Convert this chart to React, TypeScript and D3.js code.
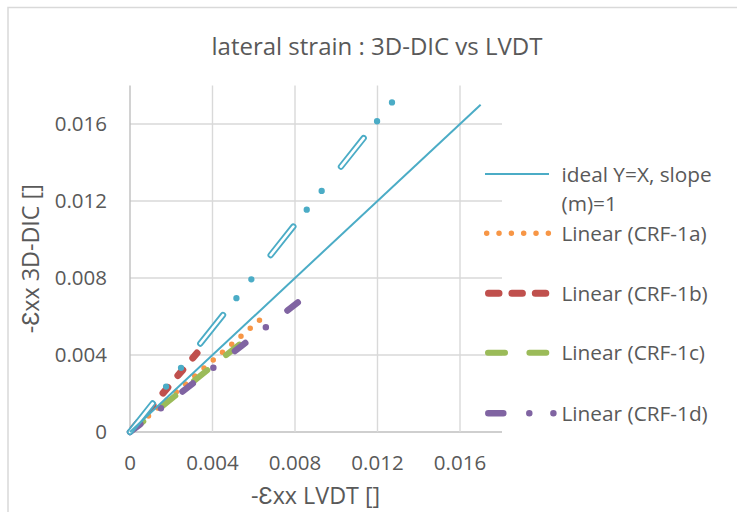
import React from "react";
import * as d3 from "d3";

const xTicks = [0, 0.004, 0.008, 0.012, 0.016];
const yTicks = [0, 0.004, 0.008, 0.012, 0.016];

const idealX = [0, 0.017];
const idealY = [0, 0.017];
const trendBlueX = [0, 0.01277];
const trendBlueY = [0, 0.01721];
const crf1aX = [0, 0.00629];
const crf1aY = [0, 0.00582];
const crf1bX = [0, 0.00325];
const crf1bY = [0, 0.0041];
const crf1cX = [0, 0.00538];
const crf1cY = [0, 0.00461];
const crf1dX = [0, 0.00913];
const crf1dY = [0, 0.00755];

const legendLabels = ["ideal Y=X, slope", "(m)=1", "Linear (CRF-1a)", "Linear (CRF-1b)", "Linear (CRF-1c)", "Linear (CRF-1d)"];

const C_BLUE = "#4BACC6";
const C_ORANGE = "#F79646";
const C_RED = "#C0504D";
const C_GREEN = "#9BBB59";
const C_PURPLE = "#8064A2";
const TXT = "#595959";
const FONT = "'Open Sans', sans-serif";

export default function App() {
  const x = d3.scaleLinear().domain([0, 0.018]).range([130, 501.25]);
  const y = d3.scaleLinear().domain([0, 0.018]).range([432, 85.5]);
  const line = d3
    .line<[number, number]>()
    .x((d) => x(d[0]))
    .y((d) => y(d[1]));
  const pts = (xs: number[], ys: number[]) => xs.map((v, i) => [v, ys[i]] as [number, number]);

  const fmt = (v: number) => (v === 0 ? "0" : v.toFixed(3));
  const x0 = x(0), x1 = 502;
  const yTop = y(0.018), yBot = y(0);

  return (
    <svg width={737} height={512} style={{ position: "absolute", left: 0, top: 0, background: "#fff" }}>
      <rect x={0} y={0} width={737} height={512} fill="#fff" />
      <rect x={8} y={7.5} width={800} height={600} fill="#fff" stroke="#d9d9d9" strokeWidth={1.5} />
      <text x={377} y={55} textAnchor="middle" fontFamily={FONT} fontSize={24} fill={TXT}>
        lateral strain : 3D-DIC vs LVDT
      </text>

      {/* gridlines */}
      {yTicks.map((t) => (
        <line key={"gy" + t} x1={x0} x2={x1} y1={y(t)} y2={y(t)} stroke={t === 0 ? "#bfbfbf" : "#d9d9d9"} strokeWidth={1.4} />
      ))}
      {xTicks.map((t) => (
        <line key={"gx" + t} x1={x(t)} x2={x(t)} y1={yTop} y2={yBot} stroke={t === 0 ? "#bfbfbf" : "#d9d9d9"} strokeWidth={1.4} />
      ))}

      {/* tick labels */}
      {yTicks.map((t) => (
        <text key={"ty" + t} x={107} y={y(t)} dy="0.36em" textAnchor="end" fontFamily={FONT} fontSize={20.5} fill={TXT}>
          {fmt(t)}
        </text>
      ))}
      {xTicks.map((t) => (
        <text key={"tx" + t} x={x(t)} y={463} dy="0.36em" textAnchor="middle" fontFamily={FONT} fontSize={20.5} fill={TXT}>
          {fmt(t)}
        </text>
      ))}

      {/* axis titles */}
      <text x={(x0 + 501.25) / 2} y={504} textAnchor="middle" fontFamily={FONT} fontSize={23.3} fill={TXT}>
        -Ɛxx LVDT []
      </text>
      <text transform={`translate(31,${(yTop + yBot) / 2}) rotate(-90)`} textAnchor="middle" dy="0.36em" fontFamily={FONT} fontSize={23.3} fill={TXT}>
        -Ɛxx 3D-DIC []
      </text>

      {/* series */}
      <path d={line(pts(crf1aX, crf1aY)) || ""} fill="none" stroke={C_ORANGE} strokeWidth={5.5} strokeLinecap="round" strokeDasharray="0 12.22" />
      <path d={line(pts(crf1bX, crf1bY)) || ""} fill="none" stroke={C_RED} strokeWidth={7} strokeLinecap="round" strokeDasharray="7.5 15.5" strokeDashoffset={18} />
      <path d={line(pts(crf1cX, crf1cY)) || ""} fill="none" stroke={C_GREEN} strokeWidth={6} strokeLinecap="round" strokeDasharray="17 24" />
      <path d={line(pts(crf1dX, crf1dY)) || ""} fill="none" stroke={C_PURPLE} strokeWidth={6.5} strokeLinecap="round" strokeDasharray="13 26 0 27.3" />
      <path d={line(pts(trendBlueX, trendBlueY)) || ""} fill="none" stroke={C_BLUE} strokeWidth={6.3} strokeLinecap="round" strokeDasharray="36.5 21.5 0 24 0 31" />
      <path d={line(pts(trendBlueX, trendBlueY)) || ""} fill="none" stroke="#fff" strokeWidth={2.6} strokeLinecap="round" strokeDasharray="36.5 76.5" />
      <path d={line(pts(idealX, idealY)) || ""} fill="none" stroke={C_BLUE} strokeWidth={2} />

      {/* legend */}
      <line x1={485} x2={549} y1={174} y2={174} stroke={C_BLUE} strokeWidth={2} />
      <line x1={486.7} x2={548.5} y1={233.3} y2={233.3} stroke={C_ORANGE} strokeWidth={5.5} strokeLinecap="round" strokeDasharray="0 12.33" />
      <line x1={488.5} x2={545.8} y1={293.3} y2={293.3} stroke={C_RED} strokeWidth={7} strokeLinecap="round" strokeDasharray="10.5 12.9" />
      <line x1={488} x2={546.3} y1={352.7} y2={352.7} stroke={C_GREEN} strokeWidth={6} strokeLinecap="round" strokeDasharray="17 24.4" />
      <line x1={488.3} x2={553.4} y1={413.3} y2={413.3} stroke={C_PURPLE} strokeWidth={6.5} strokeLinecap="round" strokeDasharray="15 26 0 24.1" />
      {[175, 203.3, 233.3, 293.3, 352.7, 413.3].map((yy, i) => (
        <text key={"lg" + i} x={561.5} y={yy} dy="0.36em" fontFamily={FONT} fontSize={20.8} fill={TXT}>
          {legendLabels[i]}
        </text>
      ))}
    </svg>
  );
}
